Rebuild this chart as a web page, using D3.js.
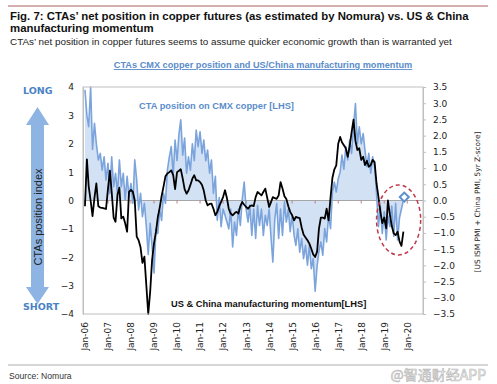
<!DOCTYPE html>
<html>
<head>
<meta charset="utf-8">
<script src="https://cdn.jsdelivr.net/npm/d3@7"></script>
<style>
  body { margin: 0; background: #fff; }
  svg { display: block; }
</style>
</head>
<body>
<script>
'use strict';

// monthly values, Jan-06 onwards
const startMonth = new Date(2006, 0, 1);

// US & China manufacturing momentum (black line)
const momentum = [
  -0.2, 1.45, 0.5, 0.0, -0.55, 0.1, 0.6, -0.2, -0.25, -0.26, -0.28, -0.3,
  0.4, 1.05, 0.3, -0.6, -0.75, 0.2, 0.45, -0.63, -0.57, -0.8, -1.1, 0.3,
  0.37, 0.3, 0.0, -1.27, -1.4, -1.65, -2.2, -1.98, -3.0, -4.0, -3.2, -2.1,
  -1.5, -1.1, -0.6, -0.25, 0.15, 0.5, 0.85, 0.95, 1.0, 1.06, 0.89, 0.4,
  1.0, 1.05, 1.1, 0.77, 0.4, 0.24, 0.35, 0.55, 0.77, 0.89, 0.71, 0.71,
  0.65, 0.55, 0.35, 0.0, -0.17, -0.12, -0.11, -0.29, -0.52, -0.4, -0.2, -0.05,
  0.12, 0.36, 0.1, -0.3, -0.46, -0.52, -0.45, -0.4, -0.46, -0.2, -0.05, -0.15,
  -0.23, -0.29, -0.2, -0.17, -0.2, 0.12, 0.3, 0.24, 0.18, 0.3, 0.42, 0.1,
  -0.23, -0.05, 0.12, 0.08, 0.06, 0.18, 0.65, 0.42, 0.15, 0.05, -0.2, -0.4,
  -0.52, -0.7, -0.58, -0.6, -0.62, -0.95, -1.2, -1.3, -1.4, -1.52, -1.7, -1.9,
  -1.99, -1.8, -1.0, -0.6, -0.6, -0.64, -0.29, -0.7, 0.1, 0.8, 1.1, 1.24,
  2.0, 2.24, 2.05, 1.95, 1.84, 1.54, 1.9, 2.4, 2.85, 2.1, 1.78, 1.84,
  1.43, 1.54, 1.25, 1.4, 1.19, 1.25, 1.43, 1.35, 0.6, 0.13, -0.4, -0.8,
  -0.6, -0.98, 0.0, -0.5, -0.9, -1.16, -1.22, -1.1, -1.45, -1.6, -1.1
];

// CTA position on CMX copper (blue line + area)
const ctaPosition = [
  3.9, 3.0, 2.6, 4.0, 1.8, 2.72, 2.0, 1.43, 1.66, 1.07, 1.54, 0.72,
  1.31, 0.25, 1.54, 0.49, 0.96, 0.25, 1.43, 0.49, 0.96, 0.02, 0.85, 0.13,
  0.6, -0.1, 1.43, 0.72, -0.33, 0.25, -0.57, -0.1, -0.92, -1.9, -0.8, -1.63,
  -2.55, -1.0, -1.16, -0.33, -0.7, 0.25, -0.1, 1.07, 1.54, 1.9, 0.9, 2.13,
  1.4, 2.36, 2.84, 1.6, 2.2, 0.96, 1.54, 1.07, 2.0, 1.4, 2.48, 1.9,
  2.42, 1.66, 2.13, 1.4, 1.78, 0.96, 1.43, 0.25, 0.85, -0.69, 0.1, -0.92,
  -0.3, -0.52, -0.75, -1.0, -0.3, -1.64, -0.76, -1.23, -0.3, -0.88, 0.06, 0.65,
  -0.3, -0.76, -0.17, -1.23, -0.3, -1.34, -0.17, -0.88, -0.3, -1.23, -0.52, -0.88,
  -0.3, -1.34, -2.17, -0.64, -0.1, -1.34, -0.3, -1.23, -0.05, -0.76, -0.3, -1.1,
  -0.52, -1.23, -1.58, -1.0, -1.82, -1.34, -2.05, -1.58, -2.28, -1.58, -2.4, -2.05,
  -3.2, -2.3, -1.8, -1.46, -1.93, -0.99, -1.46, -0.52, -0.99, 0.3, 0.65, 0.3,
  0.77, 1.0, 1.6, 1.1, 1.9, 1.43, 2.13, 1.66, 2.6, 3.42, 2.0, 2.6,
  2.0, 2.36, 1.78, 1.19, 1.66, 0.96, 1.54, 1.2, 0.25, -0.92, -0.22, -1.16,
  -0.4, -1.39, -0.55, -0.92, -0.2, -1.27, -0.1, -1.39, -0.6, -0.3, 0.02
];

const xTickYears = [2006, 2007, 2008, 2009, 2010, 2011, 2012, 2013,
  2014, 2015, 2016, 2017, 2018, 2019, 2020];
const leftTicks = [4, 3, 2, 1, 0, -1, -2, -3, -4];
const rightTicks = [3.5, 3.0, 2.5, 2.0, 1.5, 1.0, 0.5, 0.0, -0.5, -1.0, -1.5, -2.0, -2.5, -3.0, -3.5];

// latest CTA reading (diamond) and highlighted zone
const latestPoint = { date: new Date(2019, 10, 15), value: 0.12 };
const highlight = { from: new Date(2018, 8, 1), to: new Date(2020, 7, 1), top: 0.55, bottom: -1.92 };

const W = 497, H = 384;
const plot = { left: 83, right: 423, top: 87, bottom: 314 };

const monthDate = i => d3.timeMonth.offset(startMonth, i);

const x = d3.scaleTime()
  .domain([new Date(2005, 11, 1), new Date(2020, 8, 7)])
  .range([plot.left, plot.right]);
const y = d3.scaleLinear().domain([-4, 4]).range([plot.bottom, plot.top]);
const yR = d3.scaleLinear().domain([-3.5, 3.5]).range([plot.bottom, plot.top]);

const svg = d3.select('body').append('svg')
  .attr('width', W)
  .attr('height', H);

// header
svg.append('line')
  .attr('x1', 8).attr('x2', 488).attr('y1', 6).attr('y2', 6)
  .attr('stroke', '#a8625e').attr('stroke-width', 1);

const head = svg.append('text')
  .attr('font-family', 'Liberation Sans, Arial, sans-serif')
  .attr('font-weight', 'bold')
  .attr('font-size', 11.4)
  .attr('fill', '#111');
head.append('tspan').attr('x', 10).attr('y', 20)
  .text("Fig. 7:  CTAs\u2019 net position in copper futures (as estimated by Nomura) vs. US & China");
head.append('tspan').attr('x', 10).attr('y', 31.5)
  .text('manufacturing momentum');

svg.append('text')
  .attr('x', 10).attr('y', 45)
  .attr('font-family', 'Liberation Sans, Arial, sans-serif')
  .attr('font-size', 9.9)
  .attr('fill', '#222')
  .text("CTAs\u2019 net position in copper futures seems to assume quicker economic growth than is warranted yet");

svg.append('text')
  .attr('x', 263).attr('y', 68)
  .attr('text-anchor', 'middle')
  .attr('font-family', 'Liberation Sans, Arial, sans-serif')
  .attr('font-weight', 'bold')
  .attr('font-size', 9.2)
  .attr('fill', '#5b8dcb')
  .attr('text-decoration', 'underline')
  .text('CTAs CMX copper position and US/China manufacturing momentum');

// LONG / SHORT arrow
const arrowColor = '#8db4e2';
const ax = 37.5;
svg.append('path')
  .attr('d', d3.line()([
    [ax, 107], [ax + 11.5, 125], [ax + 6.5, 125], [ax + 6.5, 287], [ax + 11.5, 287],
    [ax, 304], [ax - 11.5, 287], [ax - 6.5, 287], [ax - 6.5, 125], [ax - 11.5, 125]
  ]) + 'Z')
  .attr('fill', arrowColor);

svg.append('text')
  .attr('transform', 'translate(' + (ax + 4) + ',217) rotate(-90)')
  .attr('text-anchor', 'middle')
  .attr('font-family', 'Liberation Sans, Arial, sans-serif')
  .attr('font-size', 11)
  .attr('fill', '#222')
  .text('CTAs position index');

svg.append('text')
  .attr('x', 23).attr('y', 94)
  .attr('font-family', 'DejaVu Sans, Verdana, sans-serif')
  .attr('font-weight', 'bold').attr('font-size', 9.5)
  .attr('fill', '#4a82c4')
  .text('LONG');
svg.append('text')
  .attr('x', 23).attr('y', 310)
  .attr('font-family', 'DejaVu Sans, Verdana, sans-serif')
  .attr('font-weight', 'bold').attr('font-size', 9.5)
  .attr('fill', '#4a82c4')
  .text('SHORT');

// CTA area + line
const ctaData = ctaPosition.map((v, i) => ({ date: monthDate(i), value: v }));
const momData = momentum.map((v, i) => ({ date: monthDate(i), value: v }));

svg.append('path')
  .datum(ctaData)
  .attr('fill', '#d3e1f5')
  .attr('d', d3.area()
    .x(d => x(d.date))
    .y0(y(0))
    .y1(d => y(d.value)));

// zero line with small ticks
svg.append('line')
  .attr('x1', plot.left).attr('x2', plot.right)
  .attr('y1', y(0)).attr('y2', y(0))
  .attr('stroke', '#a6a6a6').attr('stroke-width', 1);

svg.append('g')
  .selectAll('line')
  .data(xTickYears)
  .join('line')
    .attr('x1', d => x(new Date(d, 0, 1)))
    .attr('x2', d => x(new Date(d, 0, 1)))
    .attr('y1', y(0)).attr('y2', y(0) + 3)
    .attr('stroke', '#c08080');

svg.append('path')
  .datum(ctaData)
  .attr('fill', 'none')
  .attr('stroke', '#7ba4dc')
  .attr('stroke-width', 1.6)
  .attr('stroke-linejoin', 'round')
  .attr('d', d3.line()
    .x(d => x(d.date))
    .y(d => y(d.value)));

svg.append('path')
  .datum(momData)
  .attr('fill', 'none')
  .attr('stroke', '#000')
  .attr('stroke-width', 1.8)
  .attr('stroke-linejoin', 'round')
  .attr('d', d3.line()
    .x(d => x(d.date))
    .y(d => y(d.value)));

// plot frame
svg.append('rect')
  .attr('x', plot.left).attr('y', plot.top)
  .attr('width', plot.right - plot.left).attr('height', plot.bottom - plot.top)
  .attr('fill', 'none').attr('stroke', '#bfbfbf').attr('stroke-width', 1);

// left axis
const gl = svg.append('g')
  .attr('transform', 'translate(' + plot.left + ',0)')
  .call(d3.axisLeft(y).tickValues(leftTicks).tickSize(0).tickPadding(9).tickFormat(d3.format('d')));
gl.select('.domain').attr('stroke', '#bfbfbf');
gl.selectAll('text')
  .attr('font-family', 'DejaVu Sans, Verdana, sans-serif')
  .attr('font-size', 9).attr('fill', '#222');

// right axis
const gr = svg.append('g')
  .attr('transform', 'translate(' + plot.right + ',0)')
  .call(d3.axisRight(yR).tickValues(rightTicks).tickSize(3).tickPadding(7).tickFormat(d3.format('.1f')));
gr.select('.domain').attr('stroke', '#bfbfbf');
gr.selectAll('line').attr('stroke', '#bfbfbf');
gr.selectAll('text')
  .attr('font-family', 'DejaVu Sans, Verdana, sans-serif')
  .attr('font-size', 9).attr('fill', '#222');

svg.append('text')
  .attr('transform', 'translate(480,202) rotate(-90)')
  .attr('text-anchor', 'middle')
  .attr('font-family', 'DejaVu Sans, Verdana, sans-serif')
  .attr('font-size', 7.4)
  .attr('fill', '#222')
  .text('[US ISM PMI + China PMI, 5yr Z-score]');

// x axis labels at the bottom
const gx = svg.append('g')
  .attr('transform', 'translate(0,' + plot.bottom + ')')
  .call(d3.axisBottom(x)
    .tickValues(xTickYears.map(d => new Date(d, 0, 1)))
    .tickSize(0)
    .tickFormat(d3.timeFormat('Jan-%y')));
gx.select('.domain').remove();
gx.selectAll('text')
  .attr('font-family', 'DejaVu Sans, Verdana, sans-serif')
  .attr('font-size', 9).attr('fill', '#222')
  .attr('text-anchor', 'end')
  .attr('transform', 'rotate(-90)')
  .attr('x', -8).attr('y', 0).attr('dy', '0.32em');

// in-plot labels
svg.append('text')
  .attr('x', 139).attr('y', 109)
  .attr('font-family', 'Liberation Sans, Arial, sans-serif')
  .attr('font-weight', 'bold').attr('font-size', 9.3)
  .attr('fill', '#5b8dcb')
  .text('CTA position on CMX copper [LHS]');

svg.append('text')
  .attr('x', 171).attr('y', 307)
  .attr('font-family', 'Liberation Sans, Arial, sans-serif')
  .attr('font-weight', 'bold').attr('font-size', 9.3)
  .attr('fill', '#111')
  .text('US & China manufacturing momentum[LHS]');

// highlight ellipse and latest point
const ex0 = x(highlight.from), ex1 = x(highlight.to);
const ey0 = y(highlight.top), ey1 = y(highlight.bottom);
svg.append('ellipse')
  .attr('cx', (ex0 + ex1) / 2).attr('cy', (ey0 + ey1) / 2)
  .attr('rx', (ex1 - ex0) / 2).attr('ry', (ey1 - ey0) / 2)
  .attr('fill', 'none')
  .attr('stroke', '#c0394a').attr('stroke-width', 1.5)
  .attr('stroke-dasharray', '4,3');

svg.append('rect')
  .attr('x', -3.2).attr('y', -3.2).attr('width', 6.4).attr('height', 6.4)
  .attr('transform', 'translate(' + x(latestPoint.date) + ',' + y(latestPoint.value) + ') rotate(45)')
  .attr('fill', '#fff')
  .attr('stroke', '#5b8fd0').attr('stroke-width', 2);

// footer
svg.append('line')
  .attr('x1', 8).attr('x2', 488).attr('y1', 365).attr('y2', 365)
  .attr('stroke', '#9a9a9a').attr('stroke-width', 0.8);

svg.append('text')
  .attr('x', 9).attr('y', 379)
  .attr('font-family', 'Liberation Sans, Arial, sans-serif')
  .attr('font-size', 8.6)
  .attr('fill', '#333')
  .text('Source: Nomura');

svg.append('text')
  .attr('x', 486).attr('y', 380)
  .attr('text-anchor', 'end')
  .attr('font-family', 'Noto Sans CJK SC, sans-serif')
  .attr('font-size', 14)
  .attr('fill', '#f2f2f2')
  .attr('stroke', '#b8b8b8').attr('stroke-width', 0.6)
  .text('@智通财经APP');
</script>
</body>
</html>
